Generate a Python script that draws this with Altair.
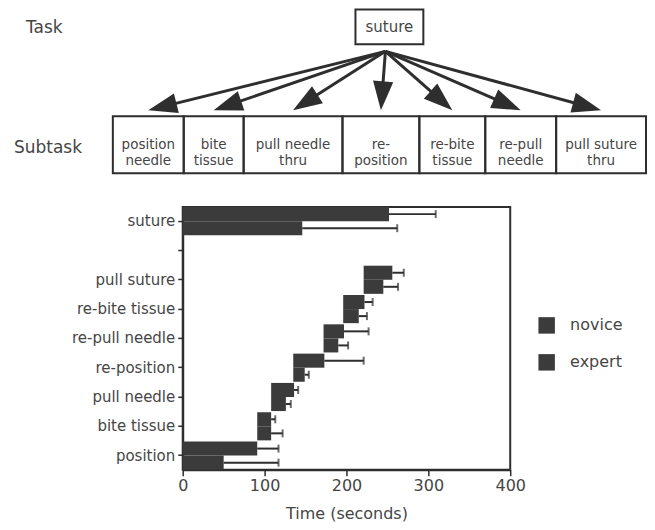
import altair as alt
import pandas as pd
import numpy as np

# ---------------- bar chart data (seconds) ----------------
subtasks = ["position", "bite tissue", "pull needle", "re-position",
            "re-pull needle", "re-bite tissue", "pull suture", "suture"]
start = [0, 91, 108, 135, 172, 196, 221, 0]
novice_end = [91, 108, 136, 173, 197, 222, 256, 252]
novice_err = [117, 113, 141, 221, 227, 232, 270, 309]
expert_end = [50, 108, 126, 149, 190, 215, 245, 146]
expert_err = [117, 122, 132, 154, 202, 225, 263, 262]
groups = ["novice", "expert"]
y_order = ["suture", " ", "pull suture", "re-bite tissue", "re-pull needle",
           "re-position", "pull needle", "bite tissue", "position"]
x_ticks = [0, 100, 200, 300, 400]

# ---------------- task diagram content ----------------
task_name = "suture"
box_labels = ["position\nneedle", "bite\ntissue", "pull  needle\nthru", "re-\nposition",
              "re-bite\ntissue", "re-pull\nneedle", "pull suture\nthru"]

# diagram layout (diagram units = pixels, measured from the left edge of the figure)
AXIS_EXTENT = 174           # space left of the bar plot for the y labels
DW, DH = 639, 165
box_edges = [104, 175, 235, 334, 411, 477, 548, 638]
row_top, row_bottom = 107, 164
task_box = (347, 415, 0, 35)
origin = (377, 42)
tip_y = 101

BAR = "#3b3b3b"
LINE = "#2e2e2e"
TEXT = "#454545"

# ---------------- bar chart ----------------
rows = []
for i, s in enumerate(subtasks):
    rows.append(dict(task=s, group="novice", start=start[i], end=novice_end[i], err=novice_err[i]))
    rows.append(dict(task=s, group="expert", start=start[i], end=expert_end[i], err=expert_err[i]))
df = pd.DataFrame(rows)

base = alt.Chart(df).encode(
    y=alt.Y("task:N",
            scale=alt.Scale(domain=y_order, paddingInner=0.04, paddingOuter=0),
            axis=alt.Axis(title=None, labelFontSize=15, labelColor=TEXT, tickSize=5,
                          tickWidth=1.5, tickColor=LINE, domainColor=LINE, domainWidth=2,
                          labelPadding=3, minExtent=AXIS_EXTENT, labelLimit=220)),
    yOffset=alt.YOffset("group:N", scale=alt.Scale(domain=groups)),
)

xscale = alt.Scale(domain=[0, 400], nice=False)
bars = base.mark_bar().encode(
    x=alt.X("start:Q", scale=xscale,
            axis=alt.Axis(values=x_ticks, title="Time (seconds)", grid=False,
                          labelFlush=False,
                          labelFontSize=16, labelColor=TEXT, titleFontSize=16,
                          titleFontWeight="normal", titleColor=TEXT, tickSize=6,
                          tickWidth=1.5, tickColor=LINE, domainColor=LINE,
                          domainWidth=2, labelPadding=2, titlePadding=12)),
    x2="end:Q",
    color=alt.Color("group:N", title=None,
                    scale=alt.Scale(domain=groups, range=[BAR, BAR]),
                    legend=alt.Legend(orient="none", legendX=356, legendY=110,
                                      symbolType="square", symbolSize=272,
                                      symbolStrokeWidth=0, labelFontSize=16,
                                      labelColor=TEXT, rowPadding=20, labelOffset=15,
                                      padding=0)),
)
errs = base.mark_rule(strokeWidth=2, color=LINE).encode(
    x=alt.X("end:Q", scale=xscale), x2="err:Q")
caps = base.mark_tick(thickness=2, size=8, color=LINE).encode(
    x=alt.X("err:Q", scale=xscale))

bottom = alt.layer(bars, errs, caps).properties(
    width=328, height=263,
    view=alt.ViewBackground(stroke=LINE, strokeWidth=2))

# ---------------- diagram ----------------
# the diagram panel's origin is aligned with the bar plot's left edge
dxs = alt.Scale(domain=[AXIS_EXTENT, DW], nice=False, zero=False)
dys = alt.Scale(domain=[0, DH], nice=False, zero=False, reverse=True)

bx0 = box_edges[:-1]
bx1 = box_edges[1:]
cx = [(a + b) / 2 for a, b in zip(bx0, bx1)]

rect_df = pd.DataFrame({
    "x0": bx0 + [task_box[0]], "x1": bx1 + [task_box[1]],
    "y0": [row_top] * len(bx0) + [task_box[2]],
    "y1": [row_bottom] * len(bx0) + [task_box[3]],
})
rects = alt.Chart(rect_df).mark_rect(fillOpacity=0, stroke=LINE, strokeWidth=2).encode(
    x=alt.X("x0:Q", scale=dxs, axis=None), x2="x1:Q",
    y=alt.Y("y0:Q", scale=dys, axis=None), y2="y1:Q")

lab_df = pd.DataFrame({"x": cx, "y": [(row_top + row_bottom) / 2] * len(cx), "t": box_labels})
labels = alt.Chart(lab_df).mark_text(fontSize=13.5, color=TEXT, lineBreak="\n",
                                     lineHeight=16, baseline="middle").encode(
    x=alt.X("x:Q", scale=dxs, axis=None), y=alt.Y("y:Q", scale=dys, axis=None), text="t:N")

task_df = pd.DataFrame({"x": [(task_box[0] + task_box[1]) / 2],
                        "y": [(task_box[2] + task_box[3]) / 2], "t": [task_name]})
task_lab = alt.Chart(task_df).mark_text(fontSize=15, color=TEXT, baseline="middle").encode(
    x=alt.X("x:Q", scale=dxs, axis=None), y=alt.Y("y:Q", scale=dys, axis=None), text="t:N")

side_df = pd.DataFrame({"x": [17, 5], "y": [19, 139], "t": ["Task", "Subtask"]})
side = alt.Chart(side_df).mark_text(fontSize=17, color=TEXT, align="left", baseline="middle").encode(
    x=alt.X("x:Q", scale=dxs, axis=None), y=alt.Y("y:Q", scale=dys, axis=None), text="t:N")

ox, oy = origin
tips_x = np.array(cx, dtype=float)
tips_y = np.full_like(tips_x, tip_y)
vx, vy = tips_x - ox, tips_y - oy
ln = np.hypot(vx, vy)
ux, uy = vx / ln, vy / ln
arr_df = pd.DataFrame({
    "x0": [ox] * len(tips_x), "y0": [oy] * len(tips_x),
    "x1": tips_x - 18 * ux, "y1": tips_y - 18 * uy,
    "tx": tips_x, "ty": tips_y,
    "ang": np.degrees(np.arctan2(-ux, uy)) % 360,
})
shafts = alt.Chart(arr_df).mark_rule(strokeWidth=3, color=LINE).encode(
    x=alt.X("x0:Q", scale=dxs, axis=None), x2="x1:Q",
    y=alt.Y("y0:Q", scale=dys, axis=None), y2="y1:Q")
heads = alt.Chart(arr_df).mark_point(shape="M0,0L-0.7,-2L0.7,-2Z", filled=True,
                                     size=841, opacity=1, color=LINE).encode(
    x=alt.X("tx:Q", scale=dxs, axis=None), y=alt.Y("ty:Q", scale=dys, axis=None),
    angle=alt.Angle("ang:Q", scale=None))

top = alt.layer(rects, labels, task_lab, side, shafts, heads).properties(
    width=DW - AXIS_EXTENT, height=DH)

chart = alt.vconcat(top, bottom, spacing=32).resolve_scale(
    x="independent", y="independent", color="independent"
).properties(
    padding={"left": 0, "top": 0, "right": 0, "bottom": 0}, background="white"
).configure(font="DejaVu Sans").configure_view(strokeWidth=0)

chart.save("out.html", embed_options={"renderer": "svg", "actions": False})
